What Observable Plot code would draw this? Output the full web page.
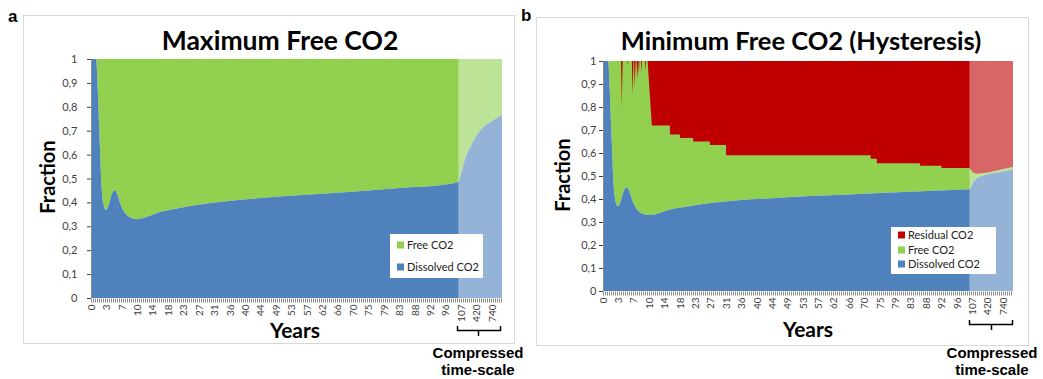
<!DOCTYPE html>
<html>
<head>
<meta charset="utf-8">
<script src="https://cdn.jsdelivr.net/npm/d3@7"></script>
<script src="https://cdn.jsdelivr.net/npm/@observablehq/plot@0.6"></script>
<style>
  html, body { margin: 0; padding: 0; background: #fff; }
  #page { position: relative; width: 1043px; height: 379px; overflow: hidden; background: #fff; }
  #left { position: absolute; left: 0; top: 0; }
  #right { position: absolute; left: 520px; top: 0; }
  #overlay { position: absolute; left: 0; top: 0; pointer-events: none; }
  svg [aria-label^="x-axis"] text { font-size: 10px; }
  svg [aria-label^="y-axis"] text { font-size: 11px; }
</style>
</head>
<body>
<div id="page">
  <div id="left"></div>
  <div id="right"></div>
</div>
<script>
// ---- data ----
const tickYears = [0,3,7,10,14,18,23,27,31,36,40,44,49,53,57,62,66,70,75,79,83,88,92,96,107,420,740];
const endYear = 1000;
const compressedStart = 105;
const yTicks = [0,0.1,0.2,0.3,0.4,0.5,0.6,0.7,0.8,0.9,1];

// Panel a: Maximum Free CO2 (dissolved fraction; free = remainder)
const maxYears =     [0, 1.0, 1.3, 1.7, 2.1, 2.5, 2.9, 3.5, 4.2, 4.8, 5.3, 5.9, 6.7, 7.8, 8.8, 10, 12, 15, 20, 26, 35, 44, 55, 66, 83, 96, 105, 120, 200, 300, 420, 560, 740, 880, 1000];
const maxDissolved = [1, 1, 0.88, 0.65, 0.45, 0.385, 0.368, 0.385, 0.425, 0.447, 0.45, 0.43, 0.39, 0.35, 0.335, 0.33, 0.337, 0.355, 0.372, 0.388, 0.405, 0.418, 0.43, 0.44, 0.46, 0.475, 0.485, 0.53, 0.59, 0.635, 0.68, 0.715, 0.74, 0.755, 0.766];

// Panel b: Minimum Free CO2 (Hysteresis)
const hystYears =     [0, 1.0, 1.3, 1.7, 2.1, 2.5, 2.9, 3.5, 4.2, 4.8, 5.3, 5.9, 6.7, 7.8, 8.8, 10, 12, 15, 20, 26, 35, 44, 55, 66, 83, 96, 105, 120, 200, 300, 420, 560, 740, 880, 1000];
const hystDissolved = [1, 1, 0.88, 0.65, 0.45, 0.385, 0.368, 0.385, 0.425, 0.447, 0.45, 0.43, 0.39, 0.35, 0.335, 0.33, 0.335, 0.352, 0.366, 0.38, 0.395, 0.403, 0.413, 0.42, 0.432, 0.44, 0.442, 0.47, 0.49, 0.5, 0.508, 0.514, 0.52, 0.524, 0.527];
const residualYears = [0, 3.7, 3.9, 4.1, 5.2, 5.3, 5.4, 6.5, 6.7, 6.9, 7.05, 7.2, 7.35, 7.55, 7.7, 7.85, 7.9, 8.0, 8.1, 8.4, 8.5, 8.6, 9.2, 9.3, 9.4, 9.7, 10.7, 15.4, 15.4, 18, 18, 22.3, 22.3, 26.8, 26.8, 31, 31, 72, 72, 74, 74, 86, 86, 92, 92, 105, 120, 200, 300, 420, 560, 740, 880, 1000];
const residualFrac  = [0, 0, 0.20, 0, 0, 0.02, 0, 0, 0.15, 0, 0, 0.12, 0, 0, 0.08, 0, 0, 0.06, 0, 0, 0.05, 0, 0, 0.04, 0, 0, 0.28, 0.28, 0.32, 0.32, 0.335, 0.335, 0.35, 0.35, 0.365, 0.365, 0.41, 0.41, 0.425, 0.425, 0.445, 0.445, 0.455, 0.455, 0.465, 0.465, 0.485, 0.49, 0.488, 0.485, 0.478, 0.47, 0.465, 0.46];

const seriesNames = ["Residual CO2", "Free CO2", "Dissolved CO2"];
const colors = {"Residual CO2": "#C00000", "Free CO2": "#92D050", "Dissolved CO2": "#4F81BD"};

// ---- build ----
const maxData = maxYears.map((year, i) => ({year, dissolved: maxDissolved[i]}));
const hystData = hystYears.map((year, i) => ({year, dissolved: hystDissolved[i]}));
const resData = residualYears.map((year, i) => ({year, residual: residualFrac[i]}));

const fmt = d => d === 0 ? "0" : d === 1 ? "1" : String(+d.toFixed(1)).replace(".", ",");

function panel({width, ml, mr, mt, mb, tickPad, marks}) {
  const plotW = width - ml - mr;
  const step = plotW / 26.65;
  const xRange = tickYears.map((_, i) => ml + i * step).concat([width - mr]);
  return Plot.plot({
    width, height: 379,
    marginLeft: ml, marginRight: mr, marginTop: mt, marginBottom: mb,
    style: {fontFamily: "Lato, sans-serif", color: "#404040", background: "transparent", overflow: "visible"},
    x: {type: "linear", domain: tickYears.concat([endYear]), range: xRange, ticks: tickYears,
        tickFormat: d => String(d), tickRotate: -90, tickSize: 0, tickPadding: 6, label: null},
    y: {domain: [0, 1], ticks: yTicks, tickFormat: fmt, tickSize: 4, tickPadding: tickPad, label: null},
    marks
  });
}

const commonTail = [
  Plot.rect([compressedStart], {x1: d => d, x2: endYear, y1: 0, y2: 1, fill: "white", fillOpacity: 0.4}),
  Plot.ruleX([0], {stroke: "#8a8a8a"}),
  Plot.ruleY([0], {stroke: "#8c8c8c", strokeWidth: 4, strokeDasharray: "1,1", dy: 2})
];

const left = panel({
  width: 520, ml: 91, mr: 18, mt: 59, mb: 81, tickPad: 10,
  marks: [
    Plot.areaY(maxData, {x: "year", y1: "dissolved", y2: 1, fill: colors["Free CO2"], curve: "monotone-x"}),
    Plot.areaY(maxData, {x: "year", y1: 0, y2: "dissolved", fill: colors["Dissolved CO2"], curve: "monotone-x"}),
    ...commonTail
  ]
});
document.getElementById("left").appendChild(left);

const right = panel({
  width: 523, ml: 83, mr: 30, mt: 61, mb: 88, tickPad: 3,
  marks: [
    Plot.areaY(hystData, {x: "year", y1: "dissolved", y2: 1, fill: colors["Free CO2"], curve: "monotone-x"}),
    Plot.areaY(resData, {x: "year", y1: d => 1 - d.residual, y2: 1, fill: colors["Residual CO2"], curve: "linear"}),
    Plot.areaY(hystData, {x: "year", y1: 0, y2: "dissolved", fill: colors["Dissolved CO2"], curve: "monotone-x"}),
    ...commonTail
  ]
});
document.getElementById("right").appendChild(right);

// ---- overlay annotations ----
const ov = d3.select("#page").append("svg").attr("id", "overlay").attr("width", 1043).attr("height", 379);

ov.append("rect").attr("x", 23.5).attr("y", 15.5).attr("width", 491).attr("height", 328).attr("fill", "none").attr("stroke", "#D9D9D9");
ov.append("rect").attr("x", 536.5).attr("y", 17.5).attr("width", 492).attr("height", 328).attr("fill", "none").attr("stroke", "#D9D9D9");

const txt = (x, y, s, o = {}) => ov.append("text").attr("x", x).attr("y", y).text(s)
  .attr("font-family", o.family || "Lato, sans-serif").attr("font-weight", o.weight || "bold")
  .attr("font-size", o.size || 12).attr("text-anchor", o.anchor || "middle").attr("fill", o.fill || "#000")
  .attr("transform", o.transform || null);

txt(8, 22, "a", {family: "Liberation Sans, Arial", size: 17, anchor: "start"});
txt(521, 21, "b", {family: "Liberation Sans, Arial", size: 17, anchor: "start"});
txt(280, 50, "Maximum Free CO2", {size: 26.5});
txt(801, 50, "Minimum Free CO2 (Hysteresis)", {size: 25.5});
txt(0, 0, "Fraction", {size: 20, transform: "translate(55,177) rotate(-90)"});
txt(0, 0, "Fraction", {size: 20, transform: "translate(570,175) rotate(-90)"});
txt(295, 338, "Years", {size: 21});
txt(808, 337, "Years", {size: 21});

// braces
ov.append("path").attr("d", "M457.5,326 V330.5 H500.5 V326 M478.5,330.5 V336").attr("fill", "none").attr("stroke", "#000").attr("stroke-width", 1.5);
ov.append("path").attr("d", "M969.5,320 V324.5 H1012.5 V320 M991.5,324.5 V330").attr("fill", "none").attr("stroke", "#000").attr("stroke-width", 1.5);
for (const cx of [478, 992]) {
  txt(cx, 358, "Compressed", {family: "Liberation Sans, Arial", size: 15});
  txt(cx, 375, "time-scale", {family: "Liberation Sans, Arial", size: 15});
}

// legends
function legend(x, y, w, h, names, rowY) {
  ov.append("rect").attr("x", x).attr("y", y).attr("width", w).attr("height", h).attr("fill", "#fff");
  names.forEach((n, i) => {
    ov.append("rect").attr("x", x + 7).attr("y", rowY[i] - 3.5).attr("width", 7).attr("height", 7).attr("fill", colors[n]);
    txt(x + 17, rowY[i] + 4, n, {weight: "normal", size: 11, anchor: "start", fill: "#222"});
  });
}
legend(390, 234, 93, 44, ["Free CO2", "Dissolved CO2"], [245, 267]);
legend(891, 227, 105, 47, seriesNames, [235, 250, 264]);
</script>
</body>
</html>
